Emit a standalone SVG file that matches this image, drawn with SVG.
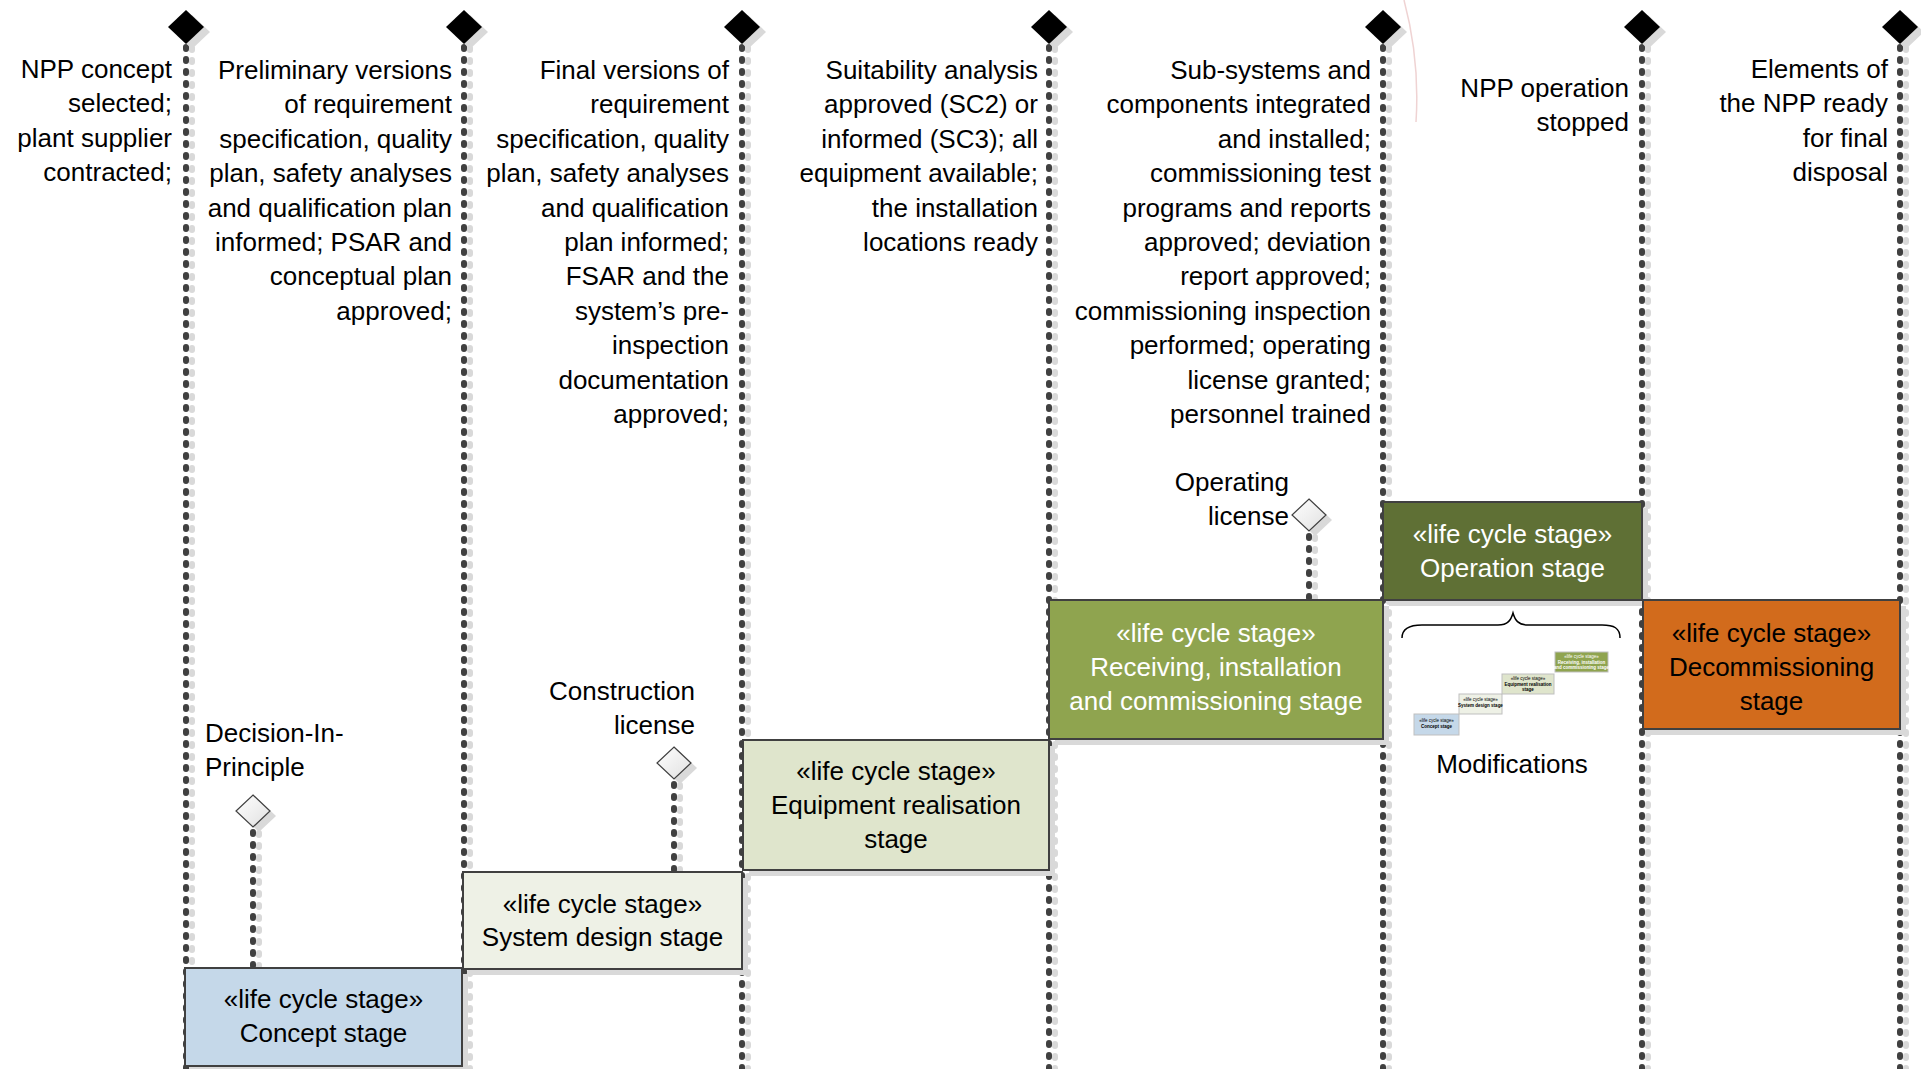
<svg xmlns="http://www.w3.org/2000/svg" width="1921" height="1069" viewBox="0 0 1921 1069">
<style>
text{font-family:"Liberation Sans",Arial,sans-serif;font-size:26px;fill:#000}
.r{text-anchor:end}
.c{text-anchor:middle}
.w{fill:#fff}
.life{stroke:#404040;stroke-width:6;stroke-linecap:round;stroke-dasharray:2 10;fill:none}
.lifesh{stroke:#d9d9d9;stroke-width:6;stroke-linecap:round;stroke-dasharray:2 10;fill:none}
.box{stroke:#404040;stroke-width:2}
.boxsh{fill:#d9d9d9}
.top{fill:#000}
.topsh{fill:#d9d9d9}
.ms{fill:url(#msg);stroke:#404040;stroke-width:1.2}
.mini{font-size:4.5px}
.minib{font-size:4.5px;font-weight:bold}
.mbox{stroke:#bfbfbf;stroke-width:1}
</style>
<defs>
<linearGradient id="msg" x1="0" y1="0" x2="1" y2="1">
<stop offset="0" stop-color="#ffffff"/>
<stop offset="1" stop-color="#e0e0e0"/>
</linearGradient>
</defs>
<rect x="0" y="0" width="1921" height="1069" fill="#fff"/>
<path d="M1404,0 Q1420,60 1416,122" stroke="#efd3d3" stroke-width="1.5" fill="none"/>

<g id="connectors">
<g id="lifeline-shadows">
<line class="lifesh" x1="192" y1="48" x2="192" y2="1069"/>
<line class="lifesh" x1="470" y1="48" x2="470" y2="1069"/>
<line class="lifesh" x1="748" y1="48" x2="748" y2="1069"/>
<line class="lifesh" x1="1055" y1="48" x2="1055" y2="1069"/>
<line class="lifesh" x1="1389" y1="48" x2="1389" y2="1069"/>
<line class="lifesh" x1="1648" y1="48" x2="1648" y2="1069"/>
<line class="lifesh" x1="1906" y1="48" x2="1906" y2="1069"/>
<line class="lifesh" x1="259" y1="833" x2="259" y2="968"/>
<line class="lifesh" x1="680" y1="785" x2="680" y2="872"/>
<line class="lifesh" x1="1315" y1="537" x2="1315" y2="600"/>
</g>
<g id="lifelines">
<line class="life" x1="186" y1="47" x2="186" y2="1069"/>
<line class="life" x1="464" y1="47" x2="464" y2="1069"/>
<line class="life" x1="742" y1="47" x2="742" y2="1069"/>
<line class="life" x1="1049" y1="47" x2="1049" y2="1069"/>
<line class="life" x1="1383" y1="47" x2="1383" y2="1069"/>
<line class="life" x1="1642" y1="47" x2="1642" y2="1069"/>
<line class="life" x1="1900" y1="47" x2="1900" y2="1069"/>
<line class="life" x1="253" y1="832" x2="253" y2="966"/>
<line class="life" x1="674" y1="784" x2="674" y2="870"/>
<line class="life" x1="1309" y1="536" x2="1309" y2="598"/>
</g>
</g>

<g id="top-milestones">
<g id="tm1"><polygon class="topsh" points="192,15 210,32 192,49 174,32"/><polygon class="top" points="186,10 204,27 186,44 168,27"/></g>
<g id="tm2"><polygon class="topsh" points="470,15 488,32 470,49 452,32"/><polygon class="top" points="464,10 482,27 464,44 446,27"/></g>
<g id="tm3"><polygon class="topsh" points="748,15 766,32 748,49 730,32"/><polygon class="top" points="742,10 760,27 742,44 724,27"/></g>
<g id="tm4"><polygon class="topsh" points="1055,15 1073,32 1055,49 1037,32"/><polygon class="top" points="1049,10 1067,27 1049,44 1031,27"/></g>
<g id="tm5"><polygon class="topsh" points="1389,15 1407,32 1389,49 1371,32"/><polygon class="top" points="1383,10 1401,27 1383,44 1365,27"/></g>
<g id="tm6"><polygon class="topsh" points="1648,15 1666,32 1648,49 1630,32"/><polygon class="top" points="1642,10 1660,27 1642,44 1624,27"/></g>
<g id="tm7"><polygon class="topsh" points="1906,15 1924,32 1906,49 1888,32"/><polygon class="top" points="1900,10 1918,27 1900,44 1882,27"/></g>
</g>

<g id="label1">
<text class="r" x="172" y="78">NPP concept</text>
<text class="r" x="172" y="112.4">selected;</text>
<text class="r" x="172" y="146.8">plant supplier</text>
<text class="r" x="172" y="181.2">contracted;</text>
</g>
<g id="label2">
<text class="r" x="452" y="79">Preliminary versions</text>
<text class="r" x="452" y="113.4">of  requirement</text>
<text class="r" x="452" y="147.8">specification, quality</text>
<text class="r" x="452" y="182.2">plan, safety analyses</text>
<text class="r" x="452" y="216.6">and qualification plan</text>
<text class="r" x="452" y="251">informed; PSAR and</text>
<text class="r" x="452" y="285.4">conceptual plan</text>
<text class="r" x="452" y="319.8">approved;</text>
</g>
<g id="label3">
<text class="r" x="729" y="79">Final versions of</text>
<text class="r" x="729" y="113.4">requirement</text>
<text class="r" x="729" y="147.8">specification, quality</text>
<text class="r" x="729" y="182.2">plan, safety analyses</text>
<text class="r" x="729" y="216.6">and qualification</text>
<text class="r" x="729" y="251">plan  informed;</text>
<text class="r" x="729" y="285.4">FSAR and the</text>
<text class="r" x="729" y="319.8">system’s pre-</text>
<text class="r" x="729" y="354.2">inspection</text>
<text class="r" x="729" y="388.6">documentation</text>
<text class="r" x="729" y="423">approved;</text>
</g>
<g id="label4">
<text class="r" x="1038" y="79">Suitability analysis</text>
<text class="r" x="1038" y="113.4">approved (SC2) or</text>
<text class="r" x="1038" y="147.8">informed (SC3); all</text>
<text class="r" x="1038" y="182.2">equipment available;</text>
<text class="r" x="1038" y="216.6">the installation</text>
<text class="r" x="1038" y="251">locations  ready</text>
</g>
<g id="label5">
<text class="r" x="1371" y="79">Sub-systems and</text>
<text class="r" x="1371" y="113.4">components integrated</text>
<text class="r" x="1371" y="147.8">and installed;</text>
<text class="r" x="1371" y="182.2">commissioning test</text>
<text class="r" x="1371" y="216.6">programs and reports</text>
<text class="r" x="1371" y="251">approved; deviation</text>
<text class="r" x="1371" y="285.4">report approved;</text>
<text class="r" x="1371" y="319.8">commissioning inspection</text>
<text class="r" x="1371" y="354.2">performed; operating</text>
<text class="r" x="1371" y="388.6">license granted;</text>
<text class="r" x="1371" y="423">personnel trained</text>
</g>
<g id="label6">
<text class="r" x="1629" y="97">NPP operation</text>
<text class="r" x="1629" y="131.4">stopped</text>
</g>
<g id="label7">
<text class="r" x="1888" y="78">Elements of</text>
<text class="r" x="1888" y="112.4">the NPP ready</text>
<text class="r" x="1888" y="146.8">for final</text>
<text class="r" x="1888" y="181.2">disposal</text>
</g>

<g id="decision-in-principle">
<polygon fill="#d9d9d9" points="259,800 276,816 259,832 242,816"/>
<polygon class="ms" points="253,795 270,811 253,827 236,811"/>
<text x="205" y="742">Decision-In-</text>
<text x="205" y="776">Principle</text>
</g>
<g id="construction-license">
<polygon fill="#d9d9d9" points="680,752 697,768 680,784 663,768"/>
<polygon class="ms" points="674,747 691,763 674,779 657,763"/>
<text class="r" x="695" y="700">Construction</text>
<text class="r" x="695" y="734">license</text>
</g>
<g id="operating-license">
<polygon fill="#d9d9d9" points="1315,504 1332,520 1315,536 1298,520"/>
<polygon class="ms" points="1309,499 1326,515 1309,531 1292,515"/>
<text class="r" x="1289" y="491">Operating</text>
<text class="r" x="1289" y="525">license</text>
</g>

<g id="concept-stage">
<rect class="boxsh" x="191" y="974" width="277" height="98"/>
<rect class="box" x="185" y="968" width="277" height="98" fill="#c5d8e9"/>
<text class="c" x="323.5" y="1008">«life cycle stage»</text>
<text class="c" x="323.5" y="1042">Concept stage</text>
</g>
<g id="system-design-stage">
<rect class="boxsh" x="469" y="878" width="279" height="97"/>
<rect class="box" x="463" y="872" width="279" height="97" fill="#eef1e6"/>
<text class="c" x="602.5" y="913">«life cycle stage»</text>
<text class="c" x="602.5" y="946">System design stage</text>
</g>
<g id="equipment-realisation-stage">
<rect class="boxsh" x="749" y="746" width="306" height="130"/>
<rect class="box" x="743" y="740" width="306" height="130" fill="#dfe5cc"/>
<text class="c" x="896" y="780">«life cycle stage»</text>
<text class="c" x="896" y="814">Equipment realisation</text>
<text class="c" x="896" y="848">stage</text>
</g>
<g id="receiving-stage">
<rect class="boxsh" x="1055" y="606" width="334" height="139"/>
<rect class="box" x="1049" y="600" width="334" height="139" fill="#8fa44f"/>
<text class="c w" x="1216" y="642">«life cycle stage»</text>
<text class="c w" x="1216" y="676">Receiving, installation</text>
<text class="c w" x="1216" y="710">and commissioning stage</text>
</g>
<g id="operation-stage">
<rect class="boxsh" x="1389" y="508" width="259" height="98"/>
<rect class="box" x="1383" y="502" width="259" height="98" fill="#5f7035"/>
<text class="c w" x="1512.5" y="543">«life cycle stage»</text>
<text class="c w" x="1512.5" y="577">Operation stage</text>
</g>
<g id="decommissioning-stage">
<rect class="boxsh" x="1649" y="606" width="257" height="129"/>
<rect class="box" x="1643" y="600" width="257" height="129" fill="#d26b1c"/>
<text class="c" x="1771.5" y="642">«life cycle stage»</text>
<text class="c" x="1771.5" y="676">Decommissioning</text>
<text class="c" x="1771.5" y="710">stage</text>
</g>

<g id="modifications">
<path d="M1402,638 C1402,628 1410,625 1422,625 L1498,625 C1508,625 1511,620 1513,613 C1515,620 1518,625 1528,625 L1602,625 C1614,625 1620,628 1620,638" fill="none" stroke="#000" stroke-width="1.5"/>
<rect class="mbox" x="1414" y="714" width="45" height="21" fill="#c5d8e9"/>
<text class="c mini" x="1436.5" y="722">«life cycle stage»</text>
<text class="c minib" x="1436.5" y="728">Concept stage</text>
<rect class="mbox" x="1459" y="694" width="43" height="20" fill="#eef1e6"/>
<text class="c mini" x="1480.5" y="701">«life cycle stage»</text>
<text class="c minib" x="1480.5" y="707">System design stage</text>
<rect class="mbox" x="1502" y="674" width="52" height="20" fill="#dfe5cc"/>
<text class="c mini" x="1528" y="680">«life cycle stage»</text>
<text class="c minib" x="1528" y="686">Equipment realisation</text>
<text class="c minib" x="1528" y="691">stage</text>
<rect class="mbox" x="1555" y="652" width="53" height="20" fill="#8fa44f"/>
<text class="c mini w" x="1581.5" y="658">«life cycle stage»</text>
<text class="c minib w" x="1581.5" y="664">Receiving, installation</text>
<text class="c minib w" x="1581.5" y="669">and commissioning stage</text>
<text class="c" x="1512" y="773">Modifications</text>
</g>
</svg>
